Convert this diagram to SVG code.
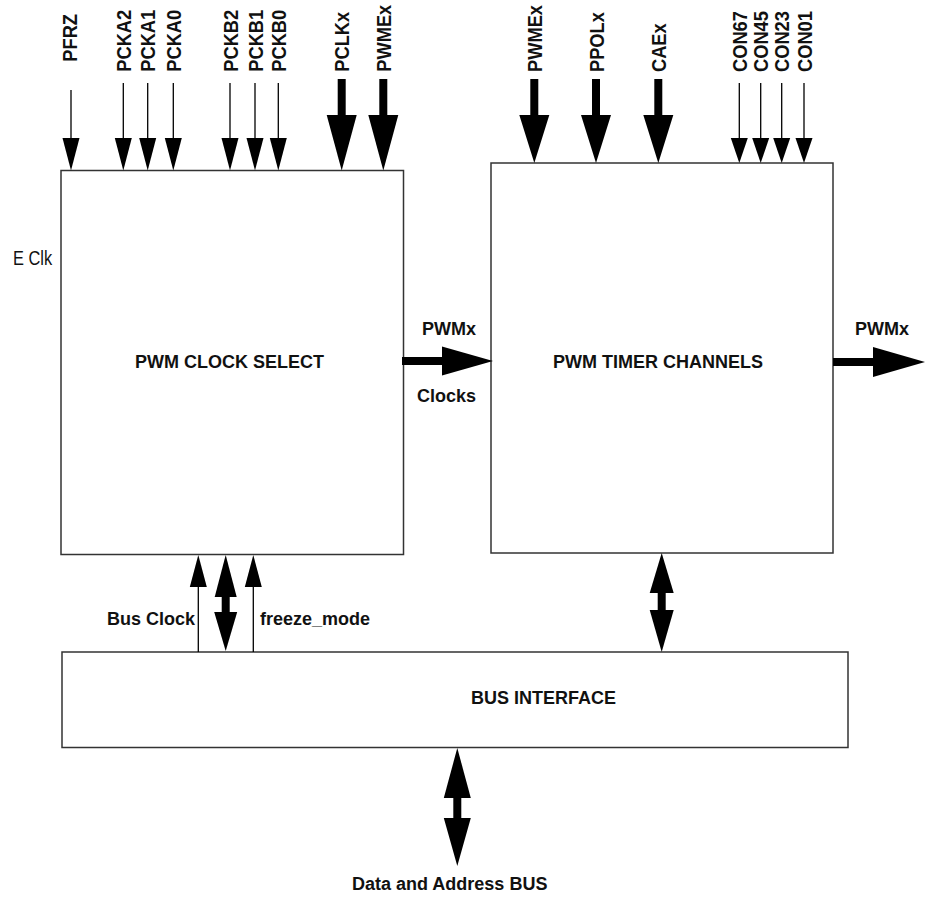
<svg xmlns="http://www.w3.org/2000/svg" width="925" height="897" viewBox="0 0 925 897">
<style>
.box{fill:#fff;stroke:#333;stroke-width:1.5}
.ln{stroke:#000;stroke-width:1.3;fill:none}
.sh{stroke:#000;stroke-width:8;fill:none}
.hd{fill:#000;stroke:none}
.t{font-family:"Liberation Sans",Arial,sans-serif;font-weight:bold;font-size:18px;fill:#111}
.r{font-family:"Liberation Sans",Arial,sans-serif;font-weight:bold;font-size:21px;fill:#111}
.e{font-family:"Liberation Sans",Arial,sans-serif;font-size:20px;fill:#111}
</style>
<rect width="925" height="897" fill="#fff"/>
<g id="clock-select">
<rect class="box" x="61" y="170.5" width="342.5" height="384"/>
<text class="t" x="135" y="368">PWM CLOCK SELECT</text>
</g>
<g id="timer-channels">
<rect class="box" x="491" y="163" width="342" height="390"/>
<text class="t" x="553" y="368">PWM TIMER CHANNELS</text>
</g>
<g id="bus-interface">
<rect class="box" x="62" y="652" width="786" height="95.5"/>
<text class="t" x="471" y="704">BUS INTERFACE</text>
</g>
<g id="connectors">
<!-- left thin down arrows -->
<line class="ln" x1="71" y1="90" x2="71" y2="140"/><polygon class="hd" points="62.5,138 79.5,138 71,170.5"/>
<line class="ln" x1="123.3" y1="83" x2="123.3" y2="140"/><polygon class="hd" points="114.8,138 131.8,138 123.3,170.5"/>
<line class="ln" x1="147.7" y1="83" x2="147.7" y2="140"/><polygon class="hd" points="139.2,138 156.2,138 147.7,170.5"/>
<line class="ln" x1="173.3" y1="83" x2="173.3" y2="140"/><polygon class="hd" points="164.8,138 181.8,138 173.3,170.5"/>
<line class="ln" x1="230" y1="83" x2="230" y2="140"/><polygon class="hd" points="221.5,138 238.5,138 230,170.5"/>
<line class="ln" x1="255" y1="83" x2="255" y2="140"/><polygon class="hd" points="246.5,138 263.5,138 255,170.5"/>
<line class="ln" x1="278.3" y1="83" x2="278.3" y2="140"/><polygon class="hd" points="269.8,138 286.8,138 278.3,170.5"/>
<!-- left thick down arrows -->
<line class="sh" x1="341.7" y1="79" x2="341.7" y2="117"/><polygon class="hd" points="326.7,115 356.7,115 341.7,170.5"/>
<line class="sh" x1="383.3" y1="79" x2="383.3" y2="117"/><polygon class="hd" points="368.3,115 398.3,115 383.3,170.5"/>
<!-- right thick down arrows -->
<line class="sh" x1="534.3" y1="79" x2="534.3" y2="117"/><polygon class="hd" points="519.3,115 549.3,115 534.3,163"/>
<line class="sh" x1="596" y1="79" x2="596" y2="117"/><polygon class="hd" points="581,115 611,115 596,163"/>
<line class="sh" x1="658.3" y1="79" x2="658.3" y2="117"/><polygon class="hd" points="643.3,115 673.3,115 658.3,163"/>
<!-- right thin down arrows -->
<line class="ln" x1="739.3" y1="83" x2="739.3" y2="140"/><polygon class="hd" points="730.8,138 747.8,138 739.3,163"/>
<line class="ln" x1="760.7" y1="83" x2="760.7" y2="140"/><polygon class="hd" points="752.2,138 769.2,138 760.7,163"/>
<line class="ln" x1="781.7" y1="83" x2="781.7" y2="140"/><polygon class="hd" points="773.2,138 790.2,138 781.7,163"/>
<line class="ln" x1="804" y1="83" x2="804" y2="140"/><polygon class="hd" points="795.5,138 812.5,138 804,163"/>
<!-- PWMx clocks -->
<line class="sh" x1="402" y1="361" x2="444" y2="361"/><polygon class="hd" points="442,346.5 442,375.5 493,361"/>
<!-- PWMx output -->
<line class="sh" x1="833" y1="362" x2="875" y2="362"/><polygon class="hd" points="873,347 873,377 925,362"/>
<!-- Bus Clock -->
<line class="ln" x1="198.3" y1="585" x2="198.3" y2="652"/><polygon class="hd" points="189.8,587 206.8,587 198.3,555"/>
<!-- bus double arrow left -->
<polygon class="hd" points="214.7,597 236.7,597 225.7,555"/>
<line class="sh" x1="225.7" y1="595" x2="225.7" y2="614"/>
<polygon class="hd" points="214.2,612 237.2,612 225.7,651"/>
<!-- freeze_mode -->
<line class="ln" x1="253.3" y1="585" x2="253.3" y2="652"/><polygon class="hd" points="244.8,587 261.8,587 253.3,555"/>
<!-- timer double arrow -->
<polygon class="hd" points="649.7,593 673.7,593 661.7,553"/>
<line class="sh" x1="661.7" y1="591" x2="661.7" y2="612"/>
<polygon class="hd" points="649.7,610 673.7,610 661.7,652"/>
<!-- data bus double arrow -->
<polygon class="hd" points="443.8,798 470.8,798 457.3,748"/>
<line class="sh" x1="457.3" y1="796" x2="457.3" y2="820"/>
<polygon class="hd" points="443.8,818 470.8,818 457.3,866"/>
</g>
<g id="labels">
<text class="r" transform="translate(76.7,61.7) rotate(-90) scale(0.87,1)">PFRZ</text>
<text class="r" transform="translate(130.8,71.7) rotate(-90) scale(0.87,1)">PCKA2</text>
<text class="r" transform="translate(155.2,71.7) rotate(-90) scale(0.87,1)">PCKA1</text>
<text class="r" transform="translate(180.8,71.7) rotate(-90) scale(0.87,1)">PCKA0</text>
<text class="r" transform="translate(237.5,71.7) rotate(-90) scale(0.87,1)">PCKB2</text>
<text class="r" transform="translate(262.5,71.7) rotate(-90) scale(0.87,1)">PCKB1</text>
<text class="r" transform="translate(285.8,71.7) rotate(-90) scale(0.87,1)">PCKB0</text>
<text class="r" transform="translate(349.2,71.7) rotate(-90) scale(0.87,1)">PCLKx</text>
<text class="r" transform="translate(390.8,71.7) rotate(-90) scale(0.87,1)">PWMEx</text>
<text class="r" transform="translate(541.8,72) rotate(-90) scale(0.87,1)">PWMEx</text>
<text class="r" transform="translate(603.5,72) rotate(-90) scale(0.87,1)">PPOLx</text>
<text class="r" transform="translate(665.8,72) rotate(-90) scale(0.87,1)">CAEx</text>
<text class="r" transform="translate(746.8,72) rotate(-90) scale(0.87,1)">CON67</text>
<text class="r" transform="translate(768.2,72) rotate(-90) scale(0.87,1)">CON45</text>
<text class="r" transform="translate(789.2,72) rotate(-90) scale(0.87,1)">CON23</text>
<text class="r" transform="translate(811.5,72) rotate(-90) scale(0.87,1)">CON01</text>
<text class="e" transform="translate(13,265) scale(0.82,1)">E Clk</text>
<text class="t" x="422" y="335">PWMx</text>
<text class="t" x="417" y="402">Clocks</text>
<text class="t" x="855" y="335">PWMx</text>
<text class="t" x="107" y="625">Bus Clock</text>
<text class="t" x="260" y="625">freeze_mode</text>
<text class="t" x="352" y="890">Data and Address BUS</text>
</g>
</svg>
